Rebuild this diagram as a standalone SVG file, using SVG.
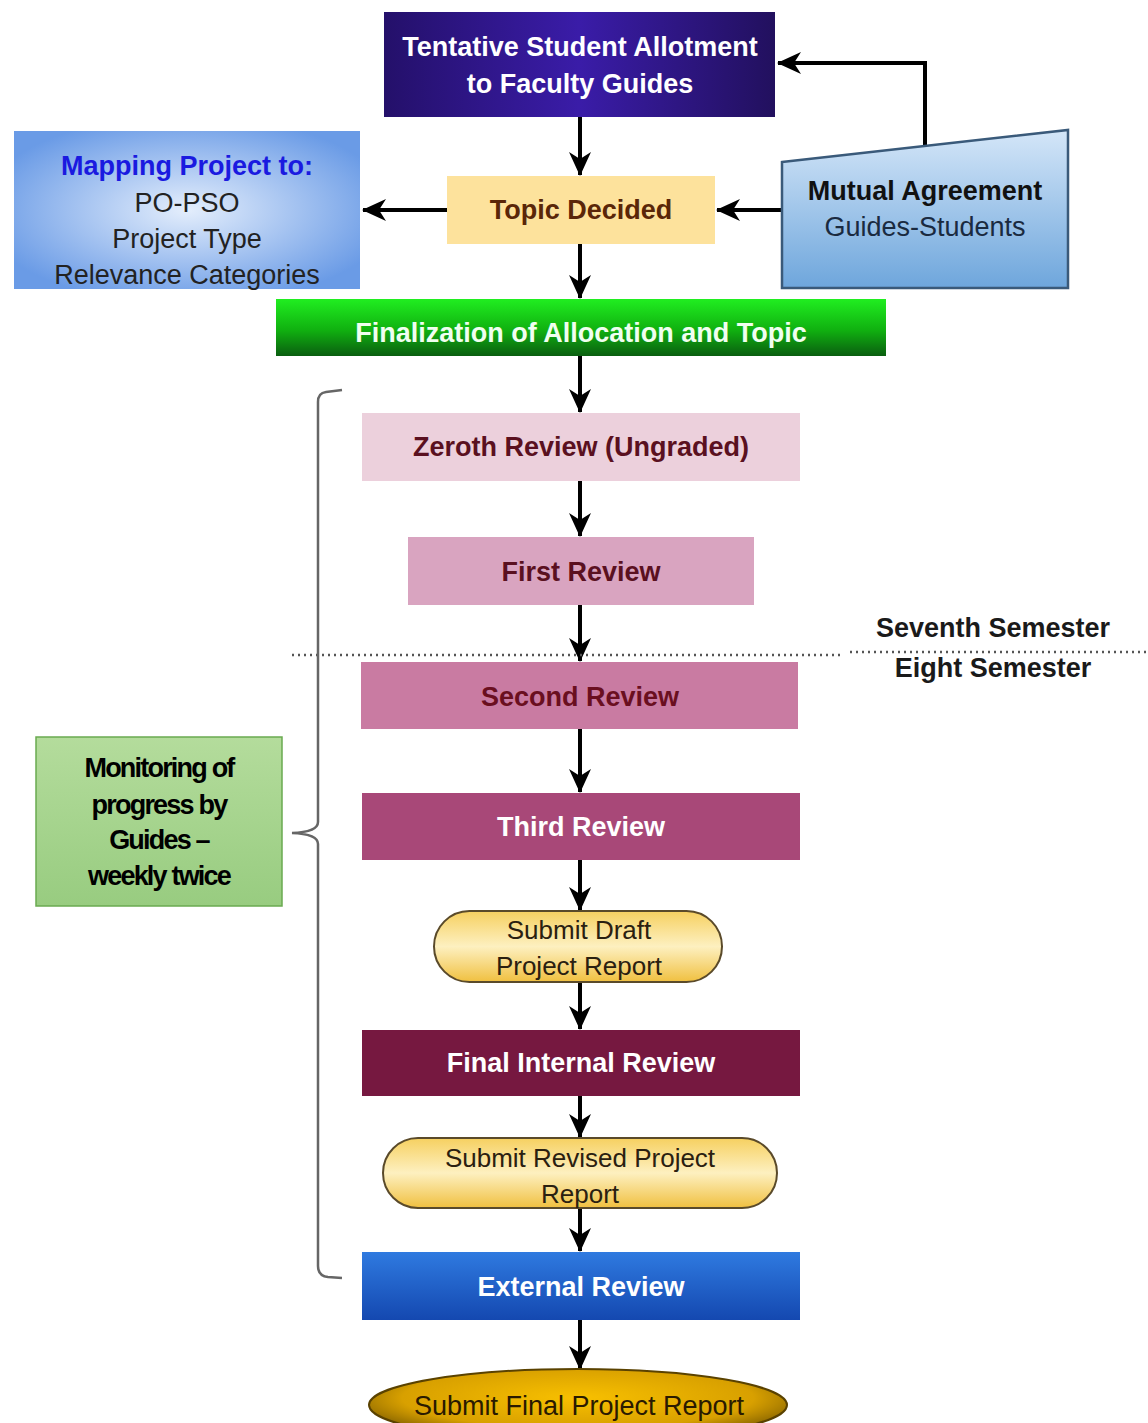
<svg xmlns="http://www.w3.org/2000/svg" width="1148" height="1423" viewBox="0 0 1148 1423">
<defs>
<linearGradient id="gPurple" x1="0" y1="0" x2="1" y2="0"><stop offset="0" stop-color="#24106a"/><stop offset="0.5" stop-color="#3a1ca8"/><stop offset="1" stop-color="#22105e"/></linearGradient>
<radialGradient id="gBlueL" cx="0.5" cy="0.5" r="0.6"><stop offset="0" stop-color="#e4eefc"/><stop offset="1" stop-color="#6a9be6"/></radialGradient>
<linearGradient id="gMutual" x1="0" y1="0" x2="0" y2="1"><stop offset="0" stop-color="#d4e6f8"/><stop offset="1" stop-color="#6ea6dc"/></linearGradient>
<linearGradient id="gGreen" x1="0" y1="0" x2="0" y2="1"><stop offset="0" stop-color="#20ee20"/><stop offset="0.55" stop-color="#10b010"/><stop offset="1" stop-color="#0a5e10"/></linearGradient>
<linearGradient id="gYellow" x1="0" y1="0" x2="0" y2="1"><stop offset="0" stop-color="#f6d060"/><stop offset="0.5" stop-color="#fdf0c0"/><stop offset="1" stop-color="#f0c040"/></linearGradient>
<linearGradient id="gExt" x1="0" y1="0" x2="0" y2="1"><stop offset="0" stop-color="#2f7ae0"/><stop offset="1" stop-color="#1448b0"/></linearGradient>
<radialGradient id="gGold" cx="0.5" cy="0.4" r="0.6"><stop offset="0" stop-color="#f8c000"/><stop offset="0.7" stop-color="#d8a000"/><stop offset="1" stop-color="#7a5a00"/></radialGradient>
<linearGradient id="gMon" x1="0" y1="0" x2="0" y2="1"><stop offset="0" stop-color="#b4dc9c"/><stop offset="1" stop-color="#98cc80"/></linearGradient>
<marker id="arr" viewBox="0 0 24 24" refX="23" refY="12" markerWidth="24" markerHeight="24" markerUnits="userSpaceOnUse" orient="auto">
<path d="M0,1 L24,12 L0,23 L7,12 z" fill="#000"/>
</marker>
</defs>
<style>
.t{font-family:"Liberation Sans",Arial,sans-serif;text-anchor:middle}
.b{font-weight:bold}
.w{fill:#ffffff}
.c{stroke:#000;stroke-width:4;fill:none;marker-end:url(#arr)}
</style>
<rect width="1148" height="1423" fill="#ffffff"/>

<g id="connectors">
<line class="c" x1="580" y1="117" x2="580" y2="175"/>
<line class="c" x1="447" y1="210" x2="363" y2="210"/>
<line class="c" x1="782" y1="210" x2="717" y2="210"/>
<polyline class="c" points="925,146 925,63 778,63"/>
<line class="c" x1="580" y1="244" x2="580" y2="298"/>
<line class="c" x1="580" y1="356" x2="580" y2="412"/>
<line class="c" x1="580" y1="481" x2="580" y2="536"/>
<line class="c" x1="580" y1="605" x2="580" y2="661"/>
<line class="c" x1="580" y1="729" x2="580" y2="792"/>
<line class="c" x1="580" y1="860" x2="580" y2="910"/>
<line class="c" x1="580" y1="982" x2="580" y2="1029"/>
<line class="c" x1="580" y1="1096" x2="580" y2="1137"/>
<line class="c" x1="580" y1="1208" x2="580" y2="1251"/>
<line class="c" x1="580" y1="1320" x2="580" y2="1369"/>
</g>

<g id="semester-divider">
<line x1="292" y1="655" x2="842" y2="655" stroke="#555" stroke-width="2.5" stroke-dasharray="2 4"/>
<line x1="850" y1="652" x2="1148" y2="652" stroke="#555" stroke-width="2.5" stroke-dasharray="2 4"/>
<text class="t b" x="993" y="637" font-size="27" fill="#1a1a1a">Seventh Semester</text>
<text class="t b" x="993" y="677" font-size="27" fill="#1a1a1a">Eight Semester</text>
</g>

<g id="bracket">
<path d="M342,390 L326,392 Q318,393 318,402 L318,822 Q318,832 292,833 Q318,834 318,844 L318,1266 Q318,1276 328,1277 L342,1278" fill="none" stroke="#666" stroke-width="2.5"/>
</g>

<g id="tentative">
<rect x="384" y="12" width="391" height="105" fill="url(#gPurple)"/>
<text class="t b w" x="580" y="56" font-size="27">Tentative Student Allotment</text>
<text class="t b w" x="580" y="93" font-size="27">to Faculty Guides</text>
</g>

<g id="mapping">
<rect x="14" y="131" width="346" height="158" fill="url(#gBlueL)"/>
<text class="t b" x="187" y="175" font-size="27" fill="#1a1ae0">Mapping Project to:</text>
<text class="t" x="187" y="212" font-size="27" fill="#222">PO-PSO</text>
<text class="t" x="187" y="248" font-size="27" fill="#222">Project Type</text>
<text class="t" x="187" y="284" font-size="27" fill="#222">Relevance Categories</text>
</g>

<g id="topic">
<rect x="447" y="176" width="268" height="68" fill="#fde29c"/>
<text class="t b" x="581" y="219" font-size="27" fill="#5a2608">Topic Decided</text>
</g>

<g id="mutual">
<polygon points="782,162 1068,130 1068,288 782,288" fill="url(#gMutual)" stroke="#3a5a7a" stroke-width="2.5"/>
<text class="t b" x="925" y="200" font-size="27" fill="#111">Mutual Agreement</text>
<text class="t" x="925" y="236" font-size="27" fill="#1a2a40">Guides-Students</text>
</g>

<g id="finalization">
<rect x="276" y="299" width="610" height="57" fill="url(#gGreen)"/>
<text class="t b" x="581" y="342" font-size="27" fill="#f0fff0">Finalization of Allocation and Topic</text>
</g>

<g id="zeroth">
<rect x="362" y="413" width="438" height="68" fill="#ecd0dc"/>
<text class="t b" x="581" y="456" font-size="27" fill="#5a1020">Zeroth Review (Ungraded)</text>
</g>

<g id="first">
<rect x="408" y="537" width="346" height="68" fill="#d9a4c0"/>
<text class="t b" x="581" y="581" font-size="27" fill="#5a1020">First Review</text>
</g>

<g id="second">
<rect x="361" y="662" width="437" height="67" fill="#c97ba2"/>
<text class="t b" x="580" y="706" font-size="27" fill="#6a0f20">Second Review</text>
</g>

<g id="monitoring">
<rect x="36" y="737" width="246" height="169" fill="url(#gMon)" stroke="#6aaa50" stroke-width="1.5"/>
<text class="t b" x="159" y="777" font-size="27" fill="#000" letter-spacing="-1.8">Monitoring of</text>
<text class="t b" x="159" y="814" font-size="27" fill="#000" letter-spacing="-1.8">progress by</text>
<text class="t b" x="159" y="849" font-size="27" fill="#000" letter-spacing="-1.8">Guides –</text>
<text class="t b" x="159" y="885" font-size="27" fill="#000" letter-spacing="-1.8">weekly twice</text>
</g>

<g id="third">
<rect x="362" y="793" width="438" height="67" fill="#a84878"/>
<text class="t b w" x="581" y="836" font-size="27">Third Review</text>
</g>

<g id="draft">
<rect x="434" y="911" width="288" height="71" rx="35.5" fill="url(#gYellow)" stroke="#5a4a2a" stroke-width="2"/>
<text class="t" x="579" y="939" font-size="26" fill="#2a2010">Submit Draft</text>
<text class="t" x="579" y="975" font-size="26" fill="#2a2010">Project Report</text>
</g>

<g id="final-internal">
<rect x="362" y="1030" width="438" height="66" fill="#761840"/>
<text class="t b w" x="581" y="1072" font-size="27">Final Internal Review</text>
</g>

<g id="revised">
<rect x="383" y="1138" width="394" height="70" rx="35" fill="url(#gYellow)" stroke="#5a4a2a" stroke-width="2"/>
<text class="t" x="580" y="1167" font-size="26" fill="#2a2010">Submit Revised Project</text>
<text class="t" x="580" y="1203" font-size="26" fill="#2a2010">Report</text>
</g>

<g id="external">
<rect x="362" y="1252" width="438" height="68" fill="url(#gExt)"/>
<text class="t b w" x="581" y="1296" font-size="27">External Review</text>
</g>

<g id="final-report">
<ellipse cx="578" cy="1405" rx="209" ry="36" fill="url(#gGold)" stroke="#5a4200" stroke-width="2"/>
<text class="t" x="579" y="1415" font-size="27" fill="#2a1a00">Submit Final Project Report</text>
</g>
</svg>
